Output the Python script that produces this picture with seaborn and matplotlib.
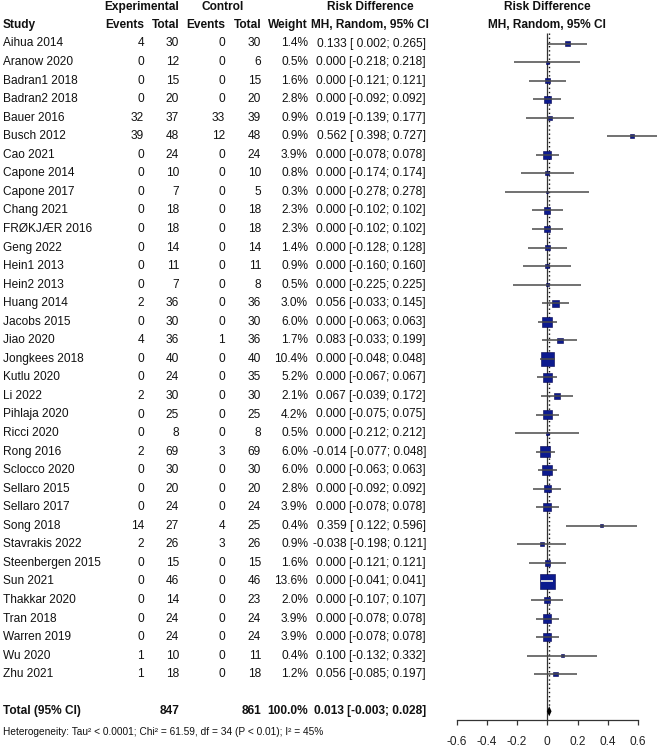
import numpy as np
import pandas as pd
import matplotlib
matplotlib.use("Agg")
import matplotlib.pyplot as plt
import seaborn as sns
from matplotlib.transforms import blended_transform_factory

# ---------------- data ----------------
studies = ["Aihua 2014", "Aranow 2020", "Badran1 2018", "Badran2 2018", "Bauer 2016",
           "Busch 2012", "Cao 2021", "Capone 2014", "Capone 2017", "Chang 2021",
           "FRØKJÆR 2016", "Geng 2022", "Hein1 2013", "Hein2 2013", "Huang 2014",
           "Jacobs 2015", "Jiao 2020", "Jongkees 2018", "Kutlu 2020", "Li 2022",
           "Pihlaja 2020", "Ricci 2020", "Rong 2016", "Sclocco 2020", "Sellaro 2015",
           "Sellaro 2017", "Song 2018", "Stavrakis 2022", "Steenbergen 2015", "Sun 2021",
           "Thakkar 2020", "Tran 2018", "Warren 2019", "Wu 2020", "Zhu 2021"]
exp_events = [4, 0, 0, 0, 32, 39, 0, 0, 0, 0, 0, 0, 0, 0, 2, 0, 4, 0, 0, 2,
              0, 0, 2, 0, 0, 0, 14, 2, 0, 0, 0, 0, 0, 1, 1]
exp_total = [30, 12, 15, 20, 37, 48, 24, 10, 7, 18, 18, 14, 11, 7, 36, 30, 36, 40, 24, 30,
             25, 8, 69, 30, 20, 24, 27, 26, 15, 46, 14, 24, 24, 10, 18]
ctrl_events = [0, 0, 0, 0, 33, 12, 0, 0, 0, 0, 0, 0, 0, 0, 0, 0, 1, 0, 0, 0,
               0, 0, 3, 0, 0, 0, 4, 3, 0, 0, 0, 0, 0, 0, 0]
ctrl_total = [30, 6, 15, 20, 39, 48, 24, 10, 5, 18, 18, 14, 11, 8, 36, 30, 36, 40, 35, 30,
              25, 8, 69, 30, 20, 24, 25, 26, 15, 46, 23, 24, 24, 11, 18]
weights = [1.4, 0.5, 1.6, 2.8, 0.9, 0.9, 3.9, 0.8, 0.3, 2.3, 2.3, 1.4, 0.9, 0.5, 3.0,
           6.0, 1.7, 10.4, 5.2, 2.1, 4.2, 0.5, 6.0, 6.0, 2.8, 3.9, 0.4, 0.9, 1.6, 13.6,
           2.0, 3.9, 3.9, 0.4, 1.2]
rd = [0.133, 0.000, 0.000, 0.000, 0.019, 0.562, 0.000, 0.000, 0.000, 0.000,
      0.000, 0.000, 0.000, 0.000, 0.056, 0.000, 0.083, 0.000, 0.000, 0.067,
      0.000, 0.000, -0.014, 0.000, 0.000, 0.000, 0.359, -0.038, 0.000, 0.000,
      0.000, 0.000, 0.000, 0.100, 0.056]
ci_lo = [0.002, -0.218, -0.121, -0.092, -0.139, 0.398, -0.078, -0.174, -0.278, -0.102,
         -0.102, -0.128, -0.160, -0.225, -0.033, -0.063, -0.033, -0.048, -0.067, -0.039,
         -0.075, -0.212, -0.077, -0.063, -0.092, -0.078, 0.122, -0.198, -0.121, -0.041,
         -0.107, -0.078, -0.078, -0.132, -0.085]
ci_hi = [0.265, 0.218, 0.121, 0.092, 0.177, 0.727, 0.078, 0.174, 0.278, 0.102,
         0.102, 0.128, 0.160, 0.225, 0.145, 0.063, 0.199, 0.048, 0.067, 0.172,
         0.075, 0.212, 0.048, 0.063, 0.092, 0.078, 0.596, 0.121, 0.121, 0.041,
         0.107, 0.078, 0.078, 0.332, 0.197]
total_exp = 847
total_ctrl = 861
total_weight = "100.0%"
pooled = [0.013, -0.003, 0.028]  # estimate, lower, upper
heterogeneity = "Heterogeneity: Tau² < 0.0001; Chi² = 61.59, df = 34 (P < 0.01); I² = 45%"
xticks = [-0.6, -0.4, -0.2, 0.0, 0.2, 0.4, 0.6]
xtick_labels = ["-0.6", "-0.4", "-0.2", "0", "0.2", "0.4", "0.6"]

df = pd.DataFrame({"study": studies, "rd": rd, "lo": ci_lo, "hi": ci_hi,
                   "weight": weights, "row": np.arange(len(studies))})

# ---------------- style ----------------
sns.set_theme(style="white")
plt.rcParams["font.family"] = ["Liberation Sans", "DejaVu Sans"]
FS = 8.6
W, H = 660, 752
fig = plt.figure(figsize=(W / 100, H / 100), dpi=100)
ax = fig.add_axes([0, 0, 1, 1])

x0_px, ppu = 547.3, 151.0          # pixel of zero, pixels per unit
y0_px, row_px = 43.5, 18.55        # pixel of first row, pixels per row
ax.set_xlim((0 - x0_px) / ppu, (W - x0_px) / ppu)
ax.set_ylim((H - y0_px) / row_px, (0 - y0_px) / row_px)
ax.set_facecolor("white")

n = len(studies)
total_row = n + 1
axis_row = total_row + 0.47
het_row = total_row + 1.12

# reference lines
ax.vlines(0, -0.55, axis_row, color="#333333", lw=0.9, zorder=1)
ax.vlines(pooled[0], -0.55, total_row - 0.25, color="#111111", lw=1.0,
          linestyles=(0, (1, 2)), zorder=1)

# CI lines
ax.hlines(df["row"], df["lo"], df["hi"], color="#4a4a4a", lw=1.1, zorder=3)

# squares (area proportional to weight)
AREA = 9.14  # points^2 per percent weight
sns.scatterplot(data=df, x="rd", y="row", size="weight",
                sizes=(AREA * min(weights), AREA * max(weights)),
                marker="s", color="#0c1a8e", edgecolor="#00004d", linewidth=0.4,
                legend=False, ax=ax, zorder=2)

# CI drawn in white where it lies inside the square
half_side_px = np.sqrt(AREA * df["weight"]) * (100 / 72) / 2
inside = ((df["hi"] - df["rd"]) * ppu) < half_side_px
for _, r in df[inside].iterrows():
    ax.hlines(r["row"], r["lo"], r["hi"], color="white", lw=1.1, zorder=4)

# pooled diamond
est, lo, hi = pooled
ax.fill([lo, est, hi, est], [total_row, total_row - 0.27, total_row, total_row + 0.27],
        color="black", zorder=4, lw=0)

# axis
for s in ["left", "right", "top"]:
    ax.spines[s].set_visible(False)
ax.spines["bottom"].set_position(("data", axis_row))
ax.spines["bottom"].set_bounds(xticks[0], xticks[-1])
ax.spines["bottom"].set_color("#333333")
ax.spines["bottom"].set_linewidth(0.9)
ax.set_xticks(xticks)
ax.set_xticklabels(xtick_labels)
ax.set_yticks([])
ax.tick_params(axis="x", direction="out", length=3.8, width=0.9, color="#333333",
               pad=7.5, labelsize=FS, labelcolor="#222222", bottom=True)
ax.set_xlabel("")
ax.set_ylabel("")

# ---------------- table text ----------------
tr = blended_transform_factory(ax.transAxes, ax.transData)


def txt(px, row, s, ha="right", bold=False, size=FS):
    ax.text(px / W, row, s, transform=tr, ha=ha, va="center", fontsize=size,
            fontweight="bold" if bold else "normal", color="#111111")


# headers
txt(142, -1.97, "Experimental", ha="center", bold=True)
txt(223, -1.97, "Control", ha="center", bold=True)
txt(370, -1.97, "Risk Difference", ha="center", bold=True)
txt(x0_px, -1.97, "Risk Difference", ha="center", bold=True)
txt(3, -1.0, "Study", ha="left", bold=True)
txt(144, -1.0, "Events", bold=True)
txt(179, -1.0, "Total", bold=True)
txt(225, -1.0, "Events", bold=True)
txt(261, -1.0, "Total", bold=True)
txt(308, -1.0, "Weight", bold=True)
txt(370, -1.0, "MH, Random, 95% CI", ha="center", bold=True)
txt(x0_px, -1.0, "MH, Random, 95% CI", ha="center", bold=True)

for i in range(n):
    txt(3, i, studies[i], ha="left")
    txt(144, i, f"{exp_events[i]}")
    txt(179, i, f"{exp_total[i]}")
    txt(225, i, f"{ctrl_events[i]}")
    txt(261, i, f"{ctrl_total[i]}")
    txt(308, i, f"{weights[i]:.1f}%")
    txt(426, i, f"{rd[i]:.3f} [{ci_lo[i]:6.3f}; {ci_hi[i]:.3f}]")

txt(3, total_row, "Total (95% CI)", ha="left", bold=True)
txt(179, total_row, f"{total_exp}", bold=True)
txt(261, total_row, f"{total_ctrl}", bold=True)
txt(308, total_row, total_weight, bold=True)
txt(426, total_row, f"{est:.3f} [{lo:6.3f}; {hi:.3f}]", bold=True)
txt(3, het_row, heterogeneity, ha="left", size=7.3)

fig.savefig("out.png", dpi=100, facecolor="white")
